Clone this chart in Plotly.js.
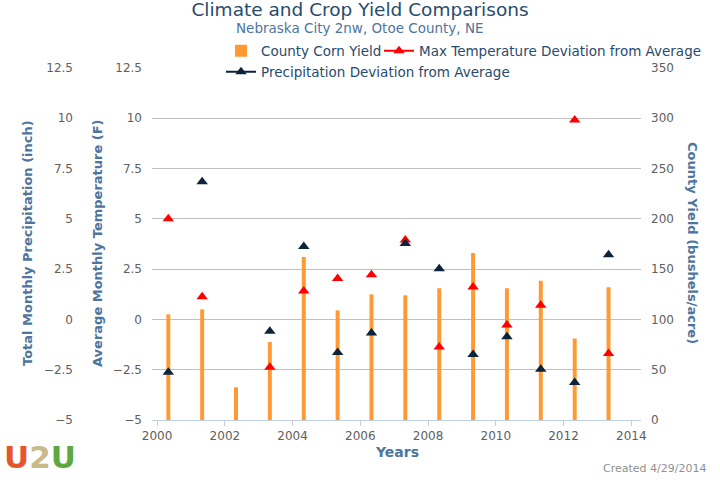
<!DOCTYPE html>
<html><head><meta charset="utf-8">
<script src="https://cdn.plot.ly/plotly-3.0.1.min.js"></script>
<style>html,body{margin:0;padding:0;background:#fff}#chart{width:720px;height:480px}</style>
</head><body><div id="chart"></div>
<script>
// ---- data ----
const years = [2000, 2001, 2002, 2003, 2004, 2005, 2006, 2007, 2008, 2009, 2010, 2011, 2012, 2013];
const cornYield = [105, 110, 32.5, 77.5, 162, 109, 125, 124, 131, 166, 131, 138.5, 81, 132];
const maxTempDev = [5.0, 1.13, null, -2.38, 1.41, 2.03, 2.22, 3.95, -1.37, 1.61, -0.28, 0.70, 9.92, -1.70];
const precipDev = [-2.63, 6.85, null, -0.59, 3.63, -1.65, -0.68, 3.78, 2.52, -1.74, -0.86, -2.48, -3.13, 3.21];
const yieldTicks = [0, 50, 100, 150, 200, 250, 300, 350];
const devTicks = [-5, -2.5, 0, 2.5, 5, 7.5, 10, 12.5];
const yearTicks = [2000, 2002, 2004, 2006, 2008, 2010, 2012, 2014];

// ---- helpers ----
const W = 720, H = 480;
const px = v => v / W;
const py = v => 1 - v / H;
const dates = years.map(y => y + '-05-01');
function isolated(xs, ys) {
  const X = [], Y = [];
  xs.forEach((x, i) => { X.push(x); Y.push(ys[i]); X.push(x); Y.push(null); });
  return {X, Y};
}
const FONT = 'DejaVu Sans, Lucida Grande, sans-serif';
const tickFont = {family: FONT, size: 12, color: '#606060'};
const t = isolated(dates, maxTempDev);
const p = isolated(dates, precipDev);

const traces = [
  {type: 'bar', name: 'County Corn Yield', x: dates, y: cornYield, yaxis: 'y',
   width: 3.7e9, marker: {color: '#ff9933'}, legend: 'legend'},
  {type: 'scatter', mode: 'lines+markers', name: 'Max Temperature Deviation from Average',
   x: t.X, y: t.Y, yaxis: 'y2', connectgaps: false,
   marker: {symbol: 'triangle-up', size: 10, color: '#ff0000'},
   line: {color: '#ff0000', width: 2}, legend: 'legend2'},
  {type: 'scatter', mode: 'lines+markers', name: 'Precipitation Deviation from Average',
   x: p.X, y: p.Y, yaxis: 'y3', connectgaps: false,
   marker: {symbol: 'triangle-up', size: 10, color: '#0d233a'},
   line: {color: '#0d233a', width: 2}, legend: 'legend3'}
];

const axTitle = {family: FONT, size: 13, color: '#4d759e', weight: 'bold'};
const legFont = {family: FONT, size: 13.5, color: '#274b6d'};
const layout = {
  width: W, height: H,
  margin: {l: 0, r: 0, t: 0, b: 0, pad: 0},
  paper_bgcolor: '#fff', plot_bgcolor: '#fff',
  font: {family: FONT},
  title: {text: 'Climate and Crop Yield Comparisons', x: 0.5, xanchor: 'center',
          y: py(10), yanchor: 'middle', font: {family: FONT, size: 18.5, color: '#274b6d'}},
  xaxis: {type: 'date', domain: [px(152), px(641)], range: ['1999-11-07', '2014-04-16'],
          tickmode: 'array', tickvals: yearTicks.map(y => y + '-01-01'), ticktext: yearTicks.map(String),
          ticks: 'outside', ticklen: 5, tickcolor: '#C0D0E0', showline: true, linecolor: '#C0D0E0',
          showgrid: false, zeroline: false, tickfont: tickFont, anchor: 'y'},
  yaxis: {domain: [py(420), py(68)], range: [0, 350], tickmode: 'array', tickvals: yieldTicks,
          side: 'right', showgrid: true, gridcolor: '#C0C0C0', zeroline: false, ticks: '',
          tickfont: tickFont, ticklabelstandoff: 9, anchor: 'x'},
  yaxis2: {overlaying: 'y', side: 'left', range: [-5, 12.5], tickmode: 'array', tickvals: devTicks,
           showgrid: false, zeroline: false, ticks: '', tickfont: tickFont, ticklabelstandoff: 9, anchor: 'x'},
  yaxis3: {overlaying: 'y', side: 'left', anchor: 'free', position: px(73), range: [-5, 12.5],
           tickmode: 'array', tickvals: devTicks, showgrid: false, zeroline: false, ticks: '',
           tickfont: tickFont},
  legend: {x: px(221), y: py(51), xanchor: 'left', yanchor: 'middle', orientation: 'h', font: legFont, bgcolor: 'rgba(0,0,0,0)'},
  legend2: {x: px(379), y: py(51), xanchor: 'left', yanchor: 'middle', orientation: 'h', font: legFont, bgcolor: 'rgba(0,0,0,0)'},
  legend3: {x: px(221), y: py(72), xanchor: 'left', yanchor: 'middle', orientation: 'h', font: legFont, bgcolor: 'rgba(0,0,0,0)'},
  showlegend: true,
  annotations: [
    {text: 'Nebraska City 2nw, Otoe County, NE', xref: 'paper', yref: 'paper', x: 0.5, y: py(28),
     xanchor: 'center', yanchor: 'middle', showarrow: false, font: {family: FONT, size: 13.5, color: '#4d759e'}},
    {text: 'Total Monthly Precipitation (inch)', xref: 'paper', yref: 'paper', x: px(27), y: py(243),
     textangle: -90, xanchor: 'center', yanchor: 'middle', showarrow: false, font: axTitle},
    {text: 'Average Monthly Temperature (F)', xref: 'paper', yref: 'paper', x: px(97), y: py(243),
     textangle: -90, xanchor: 'center', yanchor: 'middle', showarrow: false, font: axTitle},
    {text: 'County Yield (bushels/acre)', xref: 'paper', yref: 'paper', x: px(693), y: py(243),
     textangle: 90, xanchor: 'center', yanchor: 'middle', showarrow: false, font: axTitle},
    {text: 'Years', xref: 'paper', yref: 'paper', x: px(396.5), y: py(452),
     xanchor: 'center', yanchor: 'middle', showarrow: false, font: {family: FONT, size: 14, color: '#4d759e', weight: 'bold'}},
    {text: 'Created 4/29/2014', xref: 'paper', yref: 'paper', x: px(708), y: py(468),
     xanchor: 'right', yanchor: 'middle', showarrow: false, font: {family: FONT, size: 11, color: '#909090'}},
    {text: '<span style="color:#e4572e">U</span><span style="color:#cbb98a">2</span><span style="color:#5fa83f">U</span>',
     xref: 'paper', yref: 'paper', x: px(2), y: py(457), xanchor: 'left', yanchor: 'middle', showarrow: false,
     font: {family: FONT, size: 31, weight: 'bold'}}
  ]
};
Plotly.newPlot('chart', traces, layout, {displayModeBar: false, staticPlot: true});
</script>
</body></html>
